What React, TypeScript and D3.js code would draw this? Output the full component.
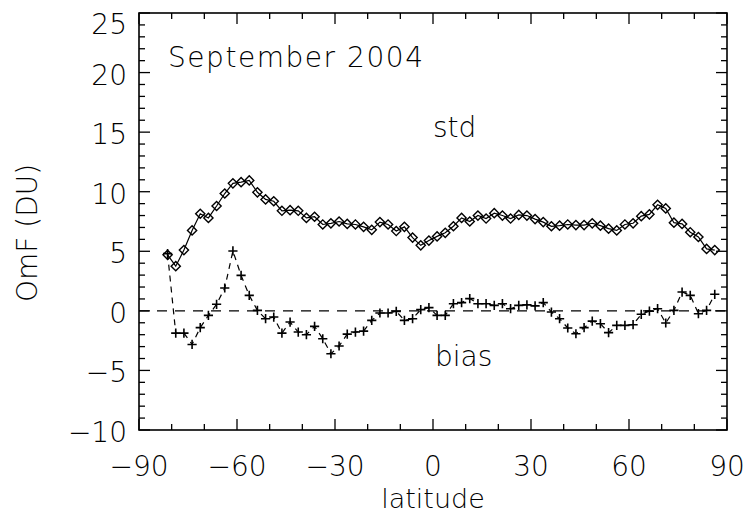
import React from "react";
import * as d3 from "d3";

const latitudes: number[] = d3.range(68).map((i) => -81.25 + i * 2.5);

const stdValues: number[] = [
  4.7, 3.75, 5.1, 6.75, 8.15, 7.8, 8.8, 9.85, 10.7, 10.8, 10.95, 9.95, 9.35, 9.2,
  8.4, 8.45, 8.4, 7.8, 7.9, 7.25, 7.35, 7.5, 7.3, 7.25, 7.05, 6.8, 7.45, 7.25,
  6.7, 7.05, 6.15, 5.5, 5.9, 6.25, 6.55, 7.1, 7.8, 7.5, 8.0, 7.75, 8.2, 8.0,
  7.75, 8.05, 8.0, 7.7, 7.45, 7.1, 7.15, 7.25, 7.2, 7.2, 7.35, 7.15, 6.9, 6.75,
  7.25, 7.35, 7.95, 8.1, 8.9, 8.6, 7.4, 7.3, 6.6, 6.2, 5.2, 5.1,
];

const biasValues: number[] = [
  4.8, -1.87, -1.87, -2.82, -1.41, -0.38, 0.55, 1.92, 5.03, 2.98, 1.3, 0.04,
  -0.66, -0.52, -1.87, -0.94, -1.78, -2.0, -1.3, -2.34, -3.6, -2.95, -1.95,
  -1.78, -1.7, -0.8, -0.18, -0.18, -0.04, -0.8, -0.66, 0.1, 0.27, -0.38, -0.38,
  0.6, 0.69, 1.03, 0.6, 0.6, 0.46, 0.6, 0.18, 0.46, 0.5, 0.42, 0.69, -0.1,
  -0.66, -1.44, -1.92, -1.41, -0.86, -1.08, -1.83, -1.22, -1.22, -1.16, -0.29,
  -0.02, 0.18, -1.02, 0.04, 1.58, 1.3, -0.24, 0.04, 1.39,
];

const xTicks: number[] = [-90, -60, -30, 0, 30, 60, 90];
const yTicks: number[] = [-10, -5, 0, 5, 10, 15, 20, 25];
const titleText = "September 2004";
const stdLabel = "std";
const biasLabel = "bias";
const xLabel = "latitude";
const yLabel = "OmF (DU)";

const W = 748;
const H = 516;
const left = 139;
const right = 727;
const top = 13;
const bottom = 430;

const FONT = "'DejaVu Sans', sans-serif";

export default function App() {
  const x = d3.scaleLinear().domain([-90, 90]).range([left, right]);
  const y = d3.scaleLinear().domain([-10, 25]).range([bottom, top]);

  const line = d3
    .line<number>()
    .x((_, i) => x(latitudes[i]))
    .y((d) => y(d));

  const xMinor = d3.range(-90, 91, 10);
  const yMinor = d3.range(-10, 26, 1);
  const major = 11;
  const minor = 6;
  const sw = 1.4;
  const dm = 4.6;
  const cr = 4.6;

  const fmt = (v: number) => (v < 0 ? "\u2212" + Math.abs(v) : String(v));

  return (
    <svg
      width={W}
      height={H}
      style={{ position: "absolute", left: 0, top: 0, background: "#fff" }}
      fontFamily={FONT}
    >
      <rect x={0} y={0} width={W} height={H} fill="#fff" />
      <line
        x1={left}
        x2={right}
        y1={y(0)}
        y2={y(0)}
        stroke="#000"
        strokeWidth={1.3}
        strokeDasharray="10 8"
      />
      <path d={line(stdValues) || ""} fill="none" stroke="#000" strokeWidth={1.2} />
      {stdValues.map((v, i) => {
        const cx = x(latitudes[i]);
        const cy = y(v);
        return (
          <path
            key={"d" + i}
            d={`M${cx},${cy - dm}L${cx + dm},${cy}L${cx},${cy + dm}L${cx - dm},${cy}Z`}
            fill="none"
            stroke="#000"
            strokeWidth={sw}
          />
        );
      })}
      <path
        d={line(biasValues) || ""}
        fill="none"
        stroke="#000"
        strokeWidth={1.2}
        strokeDasharray="6 5"
      />
      {biasValues.map((v, i) => {
        const cx = x(latitudes[i]);
        const cy = y(v);
        return (
          <path
            key={"b" + i}
            d={`M${cx - cr},${cy}L${cx + cr},${cy}M${cx},${cy - cr}L${cx},${cy + cr}`}
            fill="none"
            stroke="#000"
            strokeWidth={1.6}
          />
        );
      })}
      <rect
        x={left}
        y={top}
        width={right - left}
        height={bottom - top}
        fill="none"
        stroke="#000"
        strokeWidth={1.6}
      />
      {xMinor.map((t) => {
        const len = t % 30 === 0 ? major : minor;
        return (
          <g key={"xt" + t}>
            <line x1={x(t)} x2={x(t)} y1={bottom} y2={bottom - len} stroke="#000" strokeWidth={1.3} />
            <line x1={x(t)} x2={x(t)} y1={top} y2={top + len} stroke="#000" strokeWidth={1.3} />
          </g>
        );
      })}
      {yMinor.map((t) => {
        const len = t % 5 === 0 ? major : minor;
        return (
          <g key={"yt" + t}>
            <line x1={left} x2={left + len} y1={y(t)} y2={y(t)} stroke="#000" strokeWidth={1.3} />
            <line x1={right} x2={right - len} y1={y(t)} y2={y(t)} stroke="#000" strokeWidth={1.3} />
          </g>
        );
      })}
      {xTicks.map((t) => (
        <text
          key={"xl" + t}
          x={x(t)}
          y={476}
          textAnchor="middle"
          fontSize={28}
          fontWeight={200}
          fill="#000"
        >
          {fmt(t)}
        </text>
      ))}
      {yTicks.map((t) => (
        <text
          key={"yl" + t}
          x={127}
          y={t === 25 ? 34 : y(t) + 12}
          textAnchor="end"
          fontSize={28}
          fontWeight={200}
          fill="#000"
        >
          {fmt(t)}
        </text>
      ))}
      <text x={168} y={67} fontSize={28} fontWeight={200} fill="#000" textLength={255} lengthAdjust="spacing">
        {titleText}
      </text>
      <text x={433} y={137} fontSize={28} fontWeight={200} fill="#000">
        {stdLabel}
      </text>
      <text x={435} y={366} fontSize={28} fontWeight={200} fill="#000">
        {biasLabel}
      </text>
      <text x={433} y={508} textAnchor="middle" fontSize={27} fontWeight={200} fill="#000">
        {xLabel}
      </text>
      <text
        transform="translate(37,233) rotate(-90)"
        textAnchor="middle"
        fontSize={28}
        fontWeight={200}
        fill="#000"
      >
        {yLabel}
      </text>
    </svg>
  );
}
